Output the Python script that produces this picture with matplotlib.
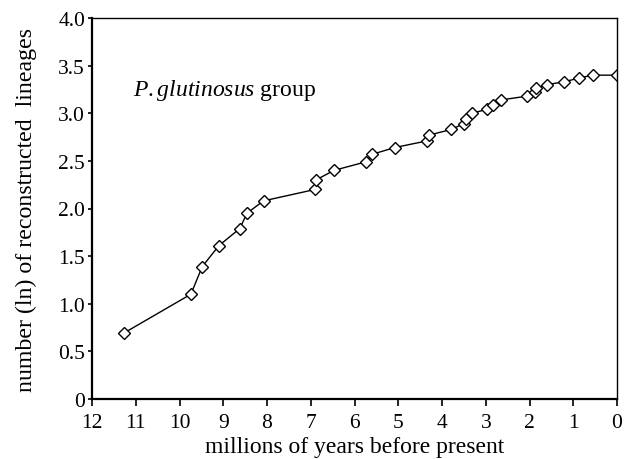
import matplotlib
matplotlib.use("Agg")
import matplotlib.pyplot as plt

# ---------------------------
# data
# ---------------------------
mya = [11.28, 9.74, 9.48, 9.10, 8.62, 8.46, 8.08, 6.90, 6.88, 6.47,
       5.74, 5.59, 5.08, 4.34, 4.30, 3.79, 3.50, 3.45, 3.32, 2.98,
       2.83, 2.65, 2.05, 1.87, 1.85, 1.61, 1.21, 0.86, 0.56, 0.0]
ln_lineages = [0.69, 1.10, 1.39, 1.61, 1.79, 1.95, 2.08, 2.20, 2.30, 2.40,
               2.49, 2.57, 2.64, 2.71, 2.77, 2.83, 2.89, 2.94, 3.00, 3.04,
               3.09, 3.14, 3.18, 3.22, 3.26, 3.30, 3.33, 3.37, 3.40, 3.40]

x_ticks = list(range(12, -1, -1))
y_ticks = [0, 0.5, 1.0, 1.5, 2.0, 2.5, 3.0, 3.5, 4.0]
y_tick_labels = ["0", "0.5", "1.0", "1.5", "2.0", "2.5", "3.0", "3.5", "4.0"]

plt.rcParams["font.family"] = ["Liberation Serif", "DejaVu Serif"]
plt.rcParams["mathtext.fontset"] = "custom"
plt.rcParams["mathtext.rm"] = "Liberation Serif"
plt.rcParams["mathtext.it"] = "Liberation Serif:italic"

fig = plt.figure(figsize=(6.29, 4.60), dpi=100)
ax = fig.add_axes([92 / 629, 60 / 460, 525 / 629, 381 / 460])

ax.plot(mya, ln_lineages, color="black", linewidth=1.0,
        marker="D", markersize=6.5, markerfacecolor="white",
        markeredgecolor="black", markeredgewidth=1.0)

ax.set_xlim(12, 0)
ax.set_ylim(0, 4.0)
ax.set_xticks(x_ticks)
ax.set_xticklabels([str(t) for t in x_ticks])
ax.set_yticks(y_ticks)
ax.set_yticklabels(y_tick_labels)
ax.tick_params(axis="both", direction="out", labelsize=15.5, width=1.2)
ax.tick_params(axis="x", length=5, pad=5)
ax.tick_params(axis="y", length=3, pad=2)

for side in ["left", "bottom"]:
    ax.spines[side].set_linewidth(1.6)
for side in ["top", "right"]:
    ax.spines[side].set_linewidth(1.0)

ax.set_xlabel("millions of years before present", fontsize=17, labelpad=3)
ax.set_ylabel("number (ln) of reconstructed  lineages", fontsize=17.2, labelpad=15)

# group label: italic genus/species, roman "group"
ax.text(11.06, 3.25, r"$\it{P.glutinosus}$ group", fontsize=17,
        va="center", ha="left")

fig.savefig("out.png", dpi=100)
